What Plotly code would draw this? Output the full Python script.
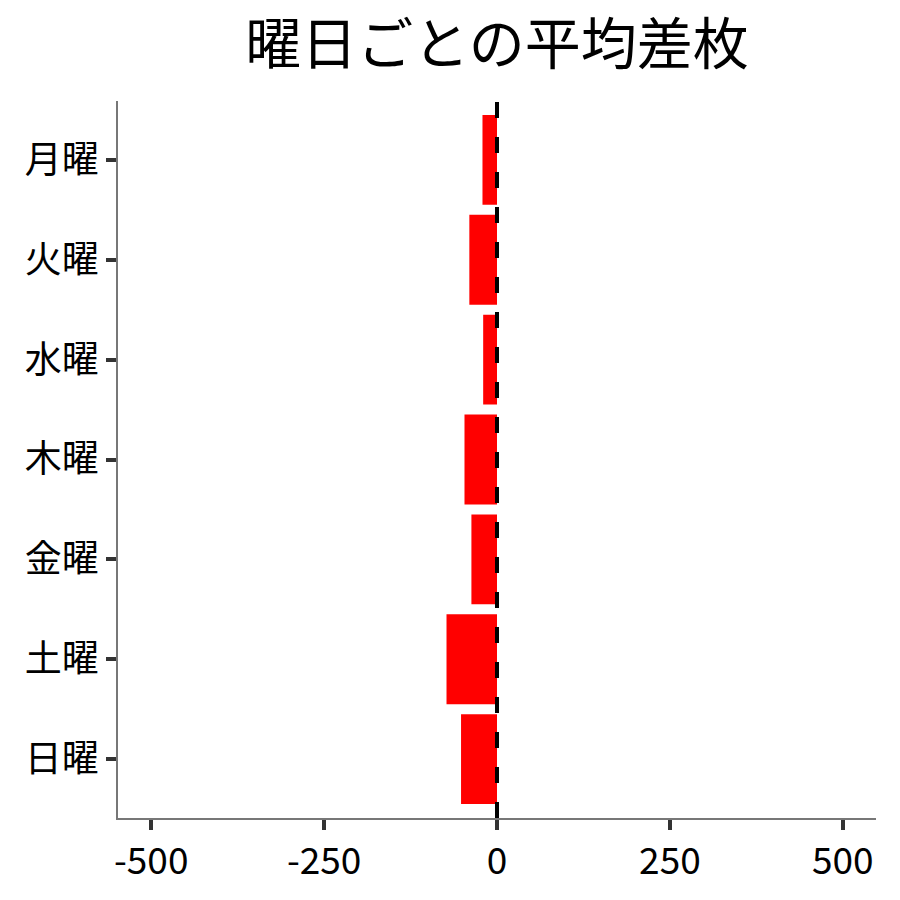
import plotly.graph_objects as go

# データ
days = ['月曜', '火曜', '水曜', '木曜', '金曜', '土曜', '日曜']
avg_diff = [-21, -40, -20, -47, -37, -73, -52]

font_family = 'Noto Sans CJK JP'

fig = go.Figure()

fig.add_trace(go.Bar(
    x=avg_diff,
    y=days,
    orientation='h',
    marker=dict(color='#ff0000', line=dict(width=0)),
    width=0.9,
    showlegend=False,
))

# 0の破線
fig.add_vline(x=0, line=dict(color='black', width=4, dash='16px,19px'))

fig.update_layout(
    title=dict(
        text='曜日ごとの平均差枚',
        x=0.5,
        xref='paper',
        xanchor='center',
        y=0.9596,
        yanchor='middle',
        font=dict(size=56, family=font_family, color='black'),
    ),
    xaxis=dict(
        range=[-548, 548],
        tickvals=[-500, -250, 0, 250, 500],
        ticktext=['-500', '-250', '0', '250', '500'],
        ticks='outside',
        ticklen=10,
        tickwidth=3.5,
        tickcolor='#333333',
        tickfont=dict(size=37, family=font_family, color='black'),
        showline=True,
        linecolor='#777777',
        linewidth=1.5,
        showgrid=False,
        zeroline=False,
    ),
    yaxis=dict(
        categoryorder='array',
        categoryarray=days,
        autorange=False,
        range=[6.59, -0.59],
        ticks='outside',
        ticklen=10,
        tickwidth=3.5,
        tickcolor='#333333',
        tickfont=dict(size=37, family=font_family, color='black'),
        showline=True,
        linecolor='#777777',
        linewidth=1.5,
        showgrid=False,
        zeroline=False,
    ),
    plot_bgcolor='white',
    paper_bgcolor='white',
    width=892,
    height=892,
    margin=dict(l=110, r=24, t=93, b=82),
    bargap=0.1,
)

fig.write_html('out.html')
